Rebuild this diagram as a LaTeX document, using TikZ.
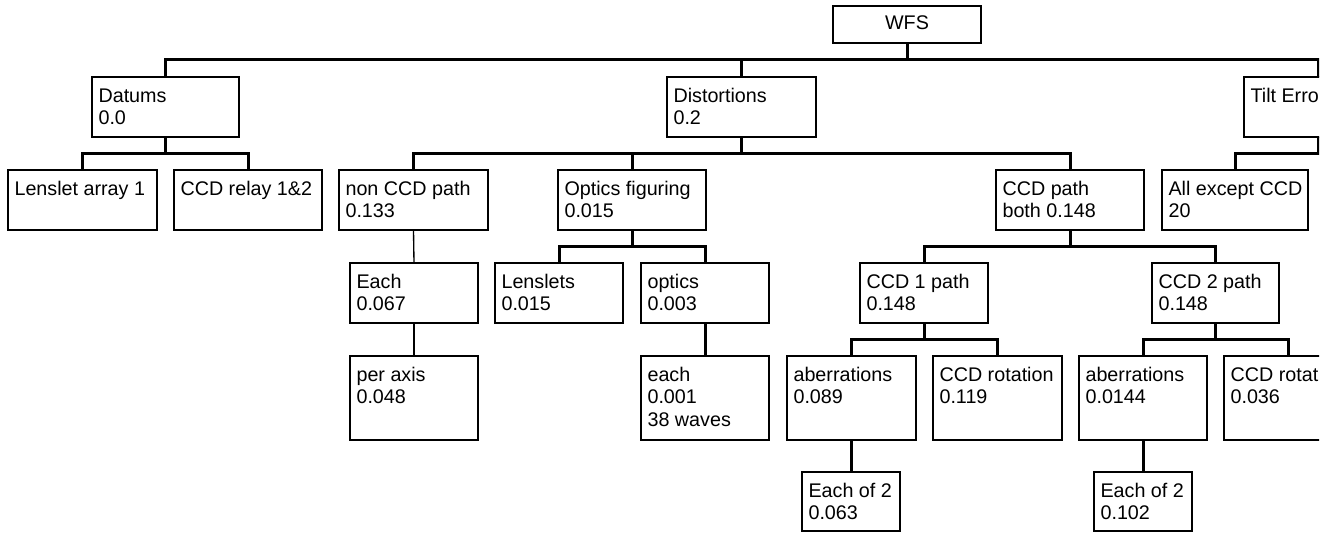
\documentclass[tikz,border=0pt]{standalone}
\usepackage{fontspec}
\setmainfont{Liberation Sans}
\tikzset{x=0.75pt,y=-0.75pt,
  boxst/.style={draw, line width=1.5pt, rectangle, inner sep=0pt, outer sep=0pt},
  txtst/.style={align=left, inner sep=0pt, outer sep=0pt, font=\fontsize{14.8pt}{16.9pt}\selectfont},
  conn/.style={line width=2.25pt},
  thinconn/.style={line width=1pt}}
\newcommand\tbox[6]{%
  \node[boxst, minimum width={(#4-#2)*0.75pt}, minimum height={(#5-#3)*0.75pt}] (#1) at ({(#2+#4)/2},{(#3+#5)/2}) {};
  \node[txtst, anchor=north west] (#1t) at ([xshift=4.9pt,yshift=-7.75pt]#1.north west) {\rule{0pt}{11pt}#6};
}
\begin{document}
\begin{tikzpicture}
\useasboundingbox (0,0) rectangle (1336,533);
\begin{scope}
\clip (0,0) rectangle (1319,533);
% root
\node[boxst, minimum width={148*0.75pt}, minimum height={37*0.75pt}] (wfs) at (907,24.5) {};
\node[txtst, anchor=base] (wfst) at (907,29) {WFS};
% row 1
\tbox{datums}{92}{77}{239}{137}{Datums\\0.0}
\tbox{dist}{667}{77}{816}{137}{Distortions\\0.2}
\tbox{tilt}{1244}{77}{1392}{137}{Tilt Erro}
% row 2
\tbox{lens}{8}{170}{157}{230}{Lenslet array 1}
\tbox{relay}{174}{170}{322}{230}{CCD relay 1\&2}
\tbox{noncd}{339}{170}{488}{230}{non CCD path\\0.133}
\tbox{optfig}{558}{170}{706}{230}{Optics figuring\\0.015}
\tbox{ccdp}{996}{170}{1144}{230}{CCD path\\both 0.148}
\tbox{allex}{1162}{170}{1308}{230}{All except CCD\\20}
% row 3
\tbox{eachone}{350}{263}{478}{323}{Each\\0.067}
\tbox{lenslets}{495}{263}{623}{323}{Lenslets\\0.015}
\tbox{optics}{641}{263}{769}{323}{optics\\0.003}
\tbox{ccdone}{860}{263}{988}{323}{CCD 1 path\\0.148}
\tbox{ccdtwo}{1152}{263}{1279}{323}{CCD 2 path\\0.148}
% row 4
\tbox{peraxis}{350}{356}{478}{440}{per axis\\0.048}
\tbox{eachopt}{641}{356}{769}{440}{each\\0.001\\38 waves}
\tbox{aberone}{787}{356}{916}{440}{aberrations\\0.089}
\tbox{rotone}{933}{356}{1062}{440}{CCD rotation\\0.119}
\tbox{abertwo}{1079}{356}{1207}{440}{aberrations\\0.0144}
\tbox{rottwo}{1224}{356}{1352}{440}{CCD rotat\\0.036}
% row 5
\tbox{eoone}{802}{472}{900}{531}{Each of 2\\0.063}
\tbox{eotwo}{1094}{472}{1192}{531}{Each of 2\\0.102}
% connectors
\foreach \p/\c in {wfs/datums, wfs/dist, wfs/tilt,
  datums/lens, datums/relay,
  dist/noncd, dist/optfig, dist/ccdp,
  tilt/allex,
  optfig/lenslets, optfig/optics,
  ccdp/ccdone, ccdp/ccdtwo,
  optics/eachopt,
  ccdone/aberone, ccdone/rotone,
  ccdtwo/abertwo, ccdtwo/rottwo,
  aberone/eoone, abertwo/eotwo}
  \draw[conn] (\p.south) -- ++(0,16.5) -| (\c.north);
\draw[thinconn] (noncd.south) -- (eachone.north);
\draw[thinconn] (eachone.south) -- (peraxis.north);
\end{scope}
\end{tikzpicture}
\end{document}
